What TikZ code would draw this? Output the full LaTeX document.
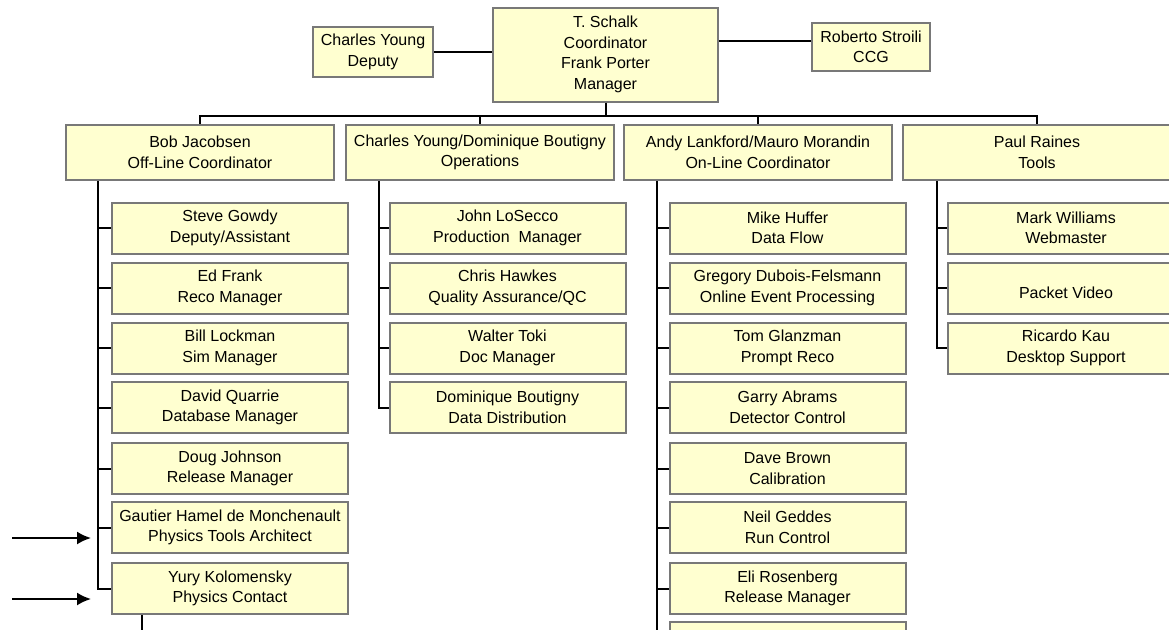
\documentclass[tikz,border=0pt]{standalone}
\usepackage{fontspec}
\setmainfont{Liberation Sans}
\usetikzlibrary{arrows.meta}
\definecolor{boxfill}{RGB}{255,255,208}
\definecolor{boxline}{RGB}{120,120,120}
\begin{document}
\begin{tikzpicture}[x=1pt,y=-1pt,
  orgbox/.style={draw=boxline, fill=boxfill, line width=2pt, inner sep=0pt,
    align=center, font=\fontsize{16}{20.5}\selectfont},
  headbox/.style={orgbox, minimum width=268pt, minimum height=55pt},
  staffbox/.style={orgbox, minimum width=236pt, minimum height=51pt},
  link/.style={line width=2pt, black},
  pointer/.style={link, -{Latex[length=14pt,width=13pt]}}]

\useasboundingbox (0,0) rectangle (1169,629);
\fill[white] (0,0) rectangle (1169,629);
\clip (0,0) rectangle (1169,629);

% top level
\node[orgbox, minimum width=225pt, minimum height=94pt] (lead) at (605.5,54.5)
  {T. Schalk\\Coordinator\\Frank Porter\\Manager};
\node[orgbox, minimum width=120pt, minimum height=50pt] (deputy) at (373,52)
  {Charles Young\\Deputy};
\node[orgbox, minimum width=118pt, minimum height=48pt] (ccg) at (871,47)
  {Roberto Stroili\\CCG};

% group heads
\node[headbox] (offline) at (200,152.5) {Bob Jacobsen\\Off-Line Coordinator};
\node[headbox] (ops)     at (480,152.5) {Charles Young/Dominique Boutigny\\Operations};
\node[headbox] (online)  at (758,152.5) {Andy Lankford/Mauro Morandin\\On-Line Coordinator};
\node[headbox] (tools)   at (1037,152.5) {Paul Raines\\Tools};

% off-line group
\node[staffbox] (c1r1) at (230,228)   {Steve Gowdy\\Deputy/Assistant};
\node[staffbox] (c1r2) at (230,288)   {Ed Frank\\Reco Manager};
\node[staffbox] (c1r3) at (230,348)   {Bill Lockman\\Sim Manager};
\node[staffbox] (c1r4) at (230,407.5) {David Quarrie\\Database Manager};
\node[staffbox] (c1r5) at (230,468.5) {Doug Johnson\\Release Manager};
\node[staffbox] (c1r6) at (230,527.5) {Gautier Hamel de Monchenault\\Physics Tools Architect};
\node[staffbox] (c1r7) at (230,588.5) {Yury Kolomensky\\Physics Contact};

% operations group
\node[staffbox] (c2r1) at (507.5,228)   {John LoSecco\\Production~ Manager};
\node[staffbox] (c2r2) at (507.5,288)   {Chris Hawkes\\Quality Assurance/QC};
\node[staffbox] (c2r3) at (507.5,348)   {Walter Toki\\Doc Manager};
\node[staffbox] (c2r4) at (507.5,407.5) {Dominique Boutigny\\Data Distribution};

% on-line group
\node[staffbox] (c3r1) at (787.5,228)   {Mike Huffer\\Data Flow};
\node[staffbox] (c3r2) at (787.5,288)   {Gregory Dubois-Felsmann\\Online Event Processing};
\node[staffbox] (c3r3) at (787.5,348)   {Tom Glanzman\\Prompt Reco};
\node[staffbox] (c3r4) at (787.5,407.5) {Garry Abrams\\Detector Control};
\node[staffbox] (c3r5) at (787.5,468.5) {Dave Brown\\Calibration};
\node[staffbox] (c3r6) at (787.5,527.5) {Neil Geddes\\Run Control};
\node[staffbox] (c3r7) at (787.5,588.5) {Eli Rosenberg\\Release Manager};
\node[staffbox] (c3r8) at (787.5,647.5) {};

% tools group
\node[staffbox] (c4r1) at (1066,228) {Mark Williams\\Webmaster};
\node[staffbox] (c4r2) at (1066,288) {\mbox{}\\Packet Video};
\node[staffbox] (c4r3) at (1066,348) {Ricardo Kau\\Desktop Support};

% connectors at the top
\draw[link] (deputy.east) -- (deputy.east -| lead.west);
\draw[link] (lead.east |- 0,41) -- (ccg.west |- 0,41);
\draw[link] (lead.south) -- ++(0,13) coordinate (bus);
\draw[link] (offline.north) |- (bus) -| (tools.north);
\draw[link] (ops.north) -- (ops.north |- bus);
\draw[link] (online.north) -- (online.north |- bus);

% column spines
\coordinate (spine1) at (98,0);
\coordinate (spine2) at (379,0);
\coordinate (spine3) at (657,0);
\coordinate (spine4) at (937,0);
\coordinate (spineEnd3) at (657,640);

\draw[link] (offline.south -| spine1) |- (c1r7.west);
\foreach \r in {1,...,6} \draw[link] (c1r\r.west -| spine1) -- (c1r\r.west);

\draw[link] (ops.south -| spine2) |- (c2r4.west);
\foreach \r in {1,...,3} \draw[link] (c2r\r.west -| spine2) -- (c2r\r.west);

\draw[link] (online.south -| spine3) -- (spineEnd3);
\foreach \r in {1,...,8} \draw[link] (c3r\r.west -| spine3) -- (c3r\r.west);

\draw[link] (tools.south -| spine4) |- (c4r3.west);
\foreach \r in {1,2} \draw[link] (c4r\r.west -| spine4) -- (c4r\r.west);

% line leaving the last off-line box downwards
\coordinate (below1) at (142,640);
\draw[link] (c1r7.south -| below1) -- (below1);

% incoming arrows
\coordinate (tailA) at (12,538);
\coordinate (tipA) at (91,538);
\coordinate (tailB) at (12,599);
\coordinate (tipB) at (91,599);
\draw[pointer] (tailA) -- (tipA);
\draw[pointer] (tailB) -- (tipB);

\end{tikzpicture}
\end{document}
